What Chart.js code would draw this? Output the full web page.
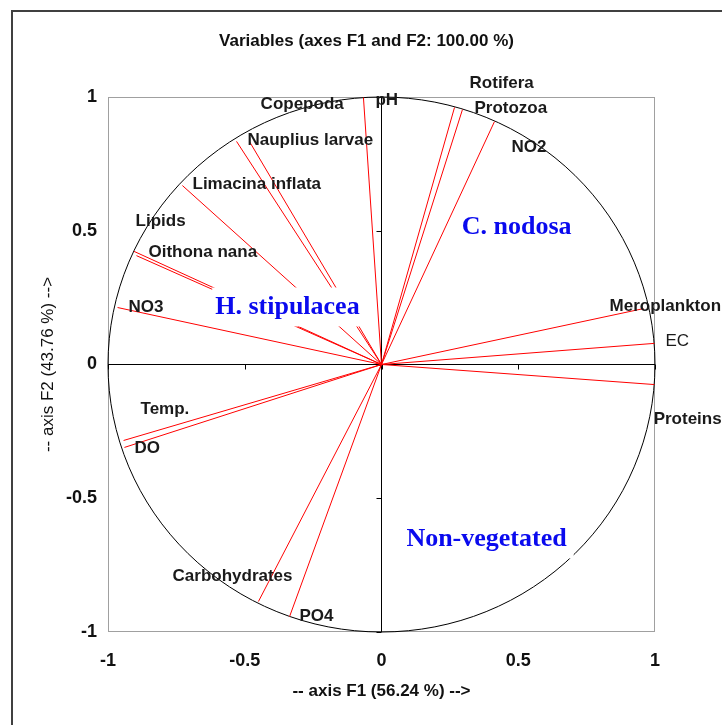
<!DOCTYPE html>
<html>
<head>
<meta charset="utf-8">
<title>Variables (axes F1 and F2: 100.00 %)</title>
<script src="https://cdn.jsdelivr.net/npm/chart.js@4"></script>
<style>
  html, body { margin: 0; padding: 0; background: #fff; }
  canvas { display: block; }
</style>
</head>
<body>
<canvas id="pca-chart" width="722" height="725"></canvas>
<script>
// loadings of each variable on F1 / F2
var variables = ["pH","Copepoda","Nauplius larvae","Limacina inflata","Lipids","Oithona nana","NO3",
                 "Rotifera","Protozoa","NO2","Meroplankton","EC","Proteins","Temp.","DO","Carbohydrates","PO4"];
var f1 = [-0.066,-0.483,-0.530,-0.728,-0.905,-0.896,-0.965, 0.267, 0.296, 0.413, 0.958, 0.998, 0.998,-0.943,-0.940,-0.450,-0.336];
var f2 = [ 0.998, 0.834, 0.834, 0.669, 0.423, 0.407, 0.213, 0.961, 0.953, 0.908, 0.209, 0.079,-0.075,-0.284,-0.310,-0.886,-0.942];

// where XLSTAT put the names (axis units, left edge / middle)
var labelAtX = [-0.022,-0.442,-0.490,-0.691,-0.899,-0.852,-0.925, 0.322, 0.340, 0.475, 0.834, 1.038, 0.995,-0.881,-0.903,-0.764,-0.300];
var labelAtY = [ 0.987, 0.972, 0.837, 0.673, 0.535, 0.419, 0.213, 1.050, 0.957, 0.811, 0.217, 0.086,-0.206,-0.168,-0.314,-0.793,-0.942];

// habitat annotations (centre x, baseline y)
var groups = ["C. nodosa","H. stipulacea","Non-vegetated"];
var groupX = [0.494,-0.344, 0.384];
var groupY = [0.486, 0.187,-0.680];

var xTicks = [-1,-0.5,0,0.5,1];
var yTicks = [-1,-0.5,0,0.5,1];

var titleText = "Variables (axes F1 and F2: 100.00 %)";
var xTitle = "-- axis F1 (56.24 %) -->";
var yTitle = "-- axis F2 (43.76 %) -->";

var datasets = variables.map(function(name, i) {
  return {
    label: name,
    data: [{x: 0, y: 0}, {x: f1[i], y: f2[i]}],
    showLine: true,
    borderColor: "#ff0000",
    borderWidth: 1,
    pointRadius: 0,
    fill: false
  };
});

var pcaDecor = {
  id: "pcaDecor",
  beforeDraw: function(chart) {
    var ctx = chart.ctx;
    ctx.save();
    ctx.strokeStyle = "#404040";
    ctx.lineWidth = 2;
    ctx.beginPath();
    ctx.moveTo(12, 725);
    ctx.lineTo(12, 11);
    ctx.lineTo(722, 11);
    ctx.stroke();
    ctx.font = "bold 17px 'Liberation Sans', Arial, sans-serif";
    ctx.fillStyle = "#111";
    ctx.textAlign = "center";
    ctx.textBaseline = "middle";
    ctx.fillText(titleText, 366.5, 41);
    ctx.restore();
  },
  beforeDatasetsDraw: function(chart) {
    var ctx = chart.ctx, a = chart.chartArea;
    var xs = chart.scales.x, ys = chart.scales.y;
    var cx = xs.getPixelForValue(0), cy = ys.getPixelForValue(0);
    ctx.save();
    ctx.lineWidth = 1;
    ctx.strokeStyle = "#a0a0a0";
    ctx.strokeRect(a.left + 0.5, a.top + 0.5, a.width - 1, a.height - 1);

    // correlation circle
    ctx.strokeStyle = "#000";
    ctx.beginPath();
    ctx.ellipse(cx, cy, xs.getPixelForValue(1) - cx, cy - ys.getPixelForValue(1), 0, 0, Math.PI * 2);
    ctx.stroke();

    // axes through the origin with their ticks
    ctx.beginPath();
    ctx.moveTo(a.left, cy); ctx.lineTo(a.right, cy);
    ctx.moveTo(cx, a.top); ctx.lineTo(cx, a.bottom);
    xTicks.forEach(function(v) {
      var px = Math.round(xs.getPixelForValue(v)) + 0.5;
      ctx.moveTo(px, cy); ctx.lineTo(px, cy + 5);
    });
    yTicks.forEach(function(v) {
      var py = Math.round(ys.getPixelForValue(v)) + 0.5;
      ctx.moveTo(cx - 5, py); ctx.lineTo(cx, py);
    });
    ctx.stroke();
    ctx.restore();
  },
  afterDatasetsDraw: function(chart) {
    var ctx = chart.ctx;
    var xs = chart.scales.x, ys = chart.scales.y;
    ctx.save();
    ctx.textAlign = "left";
    ctx.textBaseline = "middle";
    ctx.fillStyle = "#1a1a1a";
    variables.forEach(function(name, i) {
      ctx.font = (name === "EC" ? "" : "bold ") + "17px 'Liberation Sans', Arial, sans-serif";
      ctx.fillText(name, xs.getPixelForValue(labelAtX[i]), ys.getPixelForValue(labelAtY[i]));
    });

    // blue habitat names sit on white boxes that hide the vectors behind them
    ctx.font = "bold 26px 'Liberation Serif', 'Times New Roman', serif";
    ctx.textAlign = "center";
    ctx.textBaseline = "alphabetic";
    groups.forEach(function(name, i) {
      var px = xs.getPixelForValue(groupX[i]), py = ys.getPixelForValue(groupY[i]);
      var w = ctx.measureText(name).width;
      ctx.fillStyle = "#fff";
      ctx.fillRect(px - w / 2 - 3, py - 27, w + 10, 39);
      ctx.fillStyle = "#0a0aee";
      ctx.fillText(name, px, py);
    });
    ctx.restore();
  }
};

new Chart(document.getElementById("pca-chart"), {
  type: "scatter",
  data: { datasets: datasets },
  plugins: [pcaDecor],
  options: {
    responsive: false,
    animation: false,
    layout: { padding: { top: 97, right: 67, left: 0, bottom: 0 } },
    plugins: {
      legend: { display: false },
      tooltip: { enabled: false },
      title: { display: false }
    },
    scales: {
      x: {
        type: "linear",
        position: "bottom",
        min: -1, max: 1,
        grid: { display: false, drawTicks: false },
        border: { display: false },
        afterBuildTicks: function(scale) { scale.ticks = xTicks.map(function(v) { return {value: v}; }); },
        afterFit: function(scale) { scale.height = 93; },
        ticks: {
          color: "#111",
          padding: 18,
          font: { family: "'Liberation Sans', Arial, sans-serif", size: 18, weight: "bold" },
          callback: function(v) { return String(v); }
        },
        title: {
          display: true,
          text: xTitle,
          color: "#111",
          font: { family: "'Liberation Sans', Arial, sans-serif", size: 17, weight: "bold" },
          padding: { top: 0, bottom: 23 }
        }
      },
      y: {
        type: "linear",
        position: "left",
        min: -1, max: 1,
        grid: { display: false, drawTicks: false },
        border: { display: false },
        afterBuildTicks: function(scale) { scale.ticks = yTicks.map(function(v) { return {value: v}; }); },
        afterFit: function(scale) { scale.width = 108; },
        ticks: {
          color: "#111",
          padding: 11,
          font: { family: "'Liberation Sans', Arial, sans-serif", size: 18, weight: "bold" },
          callback: function(v) { return String(v); }
        },
        title: {
          display: true,
          text: yTitle,
          color: "#111",
          font: { family: "'Liberation Sans', Arial, sans-serif", size: 17, weight: "normal" },
          padding: { top: 38, bottom: 0 }
        }
      }
    }
  }
});
</script>
</body>
</html>
